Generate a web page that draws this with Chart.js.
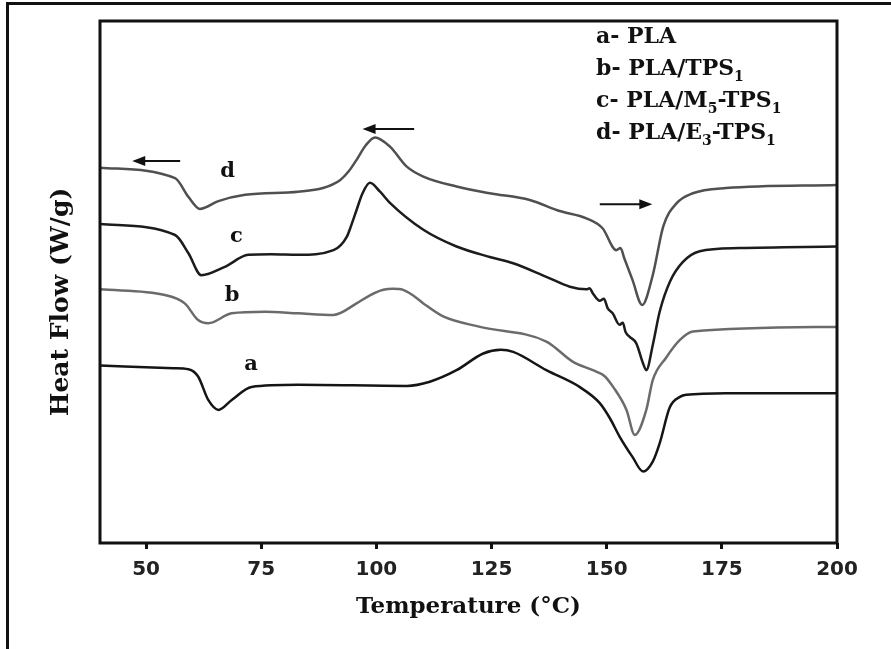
<!DOCTYPE html>
<html>
<head>
<meta charset="utf-8">
<script src="https://cdn.jsdelivr.net/npm/chart.js@4.4.1/dist/chart.umd.min.js"></script>
<style>
  html, body { margin: 0; padding: 0; background: #fff; }
  #wrap { position: relative; width: 891px; height: 649px; overflow: hidden; }
  #frame { position: absolute; left: 6px; top: 2px; width: 900px; height: 660px; border: 3px solid #111; pointer-events: none; }
</style>
</head>
<body>
<div id="wrap">
  <canvas id="dsc"></canvas>
  <div id="frame"></div>
</div>
<script>
// temperature (°C) and heat flow (arbitrary units, curves offset)
const tempsA = [40, 56, 59.2, 61.3, 63.5, 65.7, 68.6, 72.9, 83, 106.6, 111.6, 117.4, 123.2, 127, 129.7, 136.9, 144.1, 148.5, 150.7, 152.8, 155.6, 157.9, 160, 161.5, 163.7, 165.9, 167.3, 175.9, 200];
const flowA  = [3.40, 3.35, 3.33, 3.19, 2.74, 2.55, 2.74, 2.99, 3.03, 3.01, 3.09, 3.31, 3.63, 3.70, 3.66, 3.31, 2.99, 2.68, 2.39, 2.04, 1.65, 1.37, 1.56, 1.91, 2.60, 2.80, 2.84, 2.87, 2.87];

const tempsB = [40, 54.1, 58.4, 61.3, 63.5, 68.6, 75.8, 83, 90.7, 95.7, 98.5, 101.5, 103.6, 105.8, 108, 110.2, 114.5, 122.5, 136.9, 142.7, 147, 149.5, 151.4, 154.3, 156.1, 158.6, 160, 162.9, 165.9, 168.7, 200];
const flowB  = [4.86, 4.75, 4.59, 4.27, 4.21, 4.40, 4.43, 4.40, 4.37, 4.59, 4.74, 4.85, 4.87, 4.85, 4.74, 4.59, 4.34, 4.14, 3.86, 3.47, 3.31, 3.20, 2.99, 2.55, 2.07, 2.55, 3.12, 3.55, 3.89, 4.05, 4.14];

const tempsC = [40, 56.3, 59.2, 62.0, 67.1, 72.2, 77.2, 83, 90.7, 93.6, 94.6, 95.7, 97, 98.6, 100.8, 103, 110.2, 117.4, 124.6, 129.7, 136.9, 142, 145.6, 146.3, 147, 148.5, 149.4, 150.2, 151.3, 152.8, 153.5, 154.1, 155, 156.4, 157.9, 158.6, 160, 161.5, 163.7, 166.5, 170.2, 178.8, 200];
const flowC  = [6.11, 5.90, 5.55, 5.13, 5.29, 5.52, 5.53, 5.52, 5.61, 5.87, 6.10, 6.38, 6.70, 6.90, 6.73, 6.51, 6.00, 5.68, 5.48, 5.36, 5.10, 4.91, 4.86, 4.88, 4.78, 4.64, 4.68, 4.50, 4.40, 4.18, 4.22, 4.04, 3.95, 3.83, 3.44, 3.31, 3.79, 4.43, 5.00, 5.38, 5.59, 5.65, 5.68];

const tempsD = [40, 56.3, 59.2, 61.7, 65.7, 71.5, 83, 88.4, 92.1, 94, 95.7, 97.7, 99.7, 103, 106.6, 110.2, 117.4, 124.6, 133.3, 139.8, 145.6, 149.1, 152.1, 153, 153.8, 155.6, 157.7, 160, 162.3, 165.2, 168.7, 175.9, 200];
const flowD  = [7.19, 6.99, 6.63, 6.40, 6.55, 6.67, 6.73, 6.80, 6.95, 7.12, 7.34, 7.62, 7.77, 7.59, 7.21, 7.02, 6.83, 6.70, 6.57, 6.36, 6.22, 6.03, 5.61, 5.65, 5.46, 5.04, 4.56, 5.13, 6.07, 6.51, 6.70, 6.80, 6.86];

const xTicks = [50, 75, 100, 125, 150, 175, 200];
const yTitle = 'Heat Flow (W/g)';

// curve letters placed next to each trace (temperature, heat flow)
const curveLetters = ['a', 'b', 'c', 'd'];
const letterT = [72.8, 68.7, 69.6, 67.7];
const letterY = [3.41, 4.75, 5.88, 7.11];

// heating direction arrows: [from T, to T, heat flow]
const arrows = [[57.4, 47.0, 7.32], [108.2, 97.0, 7.93], [148.5, 159.9, 6.49]];

// legend text, odd entries are subscripts
const legendLines = [['a- PLA'], ['b- PLA/TPS', '1'], ['c- PLA/M', '5', '-TPS', '1'], ['d- PLA/E', '3', '-TPS', '1']];

const toPts = (t, f) => t.map((v, i) => ({ x: v, y: f[i] }));

const extras = {
    id: 'extras',
    afterDatasetsDraw(chart) {
        const { ctx, chartArea: a, scales: { x, y } } = chart;
        ctx.save();
        ctx.lineWidth = 3;
        ctx.strokeStyle = '#111';
        ctx.strokeRect(a.left, a.top, a.right - a.left, a.bottom - a.top);

        ctx.fillStyle = '#111';
        ctx.textAlign = 'center';
        ctx.textBaseline = 'middle';
        ctx.font = 'bold 21px "DejaVu Serif"';
        curveLetters.forEach((l, i) => {
            ctx.fillText(l, x.getPixelForValue(letterT[i]), y.getPixelForValue(letterY[i]));
        });

        // y title, a bit below the middle like the original
        ctx.save();
        ctx.translate(a.left - 39, (a.top + a.bottom) / 2 + 20);
        ctx.rotate(-Math.PI / 2);
        ctx.font = 'bold 25px "DejaVu Serif"';
        ctx.fillText(yTitle, 0, 0);
        ctx.restore();

        ctx.lineWidth = 2;
        arrows.forEach(([t0, t1, v]) => {
            const x0 = x.getPixelForValue(t0), x1 = x.getPixelForValue(t1), py = y.getPixelForValue(v);
            const dir = Math.sign(x1 - x0);
            ctx.beginPath();
            ctx.moveTo(x0, py);
            ctx.lineTo(x1 - dir * 8, py);
            ctx.stroke();
            ctx.beginPath();
            ctx.moveTo(x1, py);
            ctx.lineTo(x1 - dir * 13, py - 5);
            ctx.lineTo(x1 - dir * 13, py + 5);
            ctx.closePath();
            ctx.fill();
        });

        ctx.textAlign = 'left';
        legendLines.forEach((parts, i) => {
            let px = a.right - 241;
            const py = a.top + 16 + i * 32;
            parts.forEach((s, j) => {
                const sub = j % 2 === 1;
                ctx.font = sub ? 'bold 14px "DejaVu Serif"' : 'bold 22px "DejaVu Serif"';
                ctx.fillText(s, px, sub ? py + 8 : py);
                px += ctx.measureText(s).width;
            });
        });
        ctx.restore();
    }
};

const mk = (label, t, f, color) => ({
    label,
    data: toPts(t, f),
    borderColor: color,
    borderWidth: 2.5,
    pointRadius: 0,
    fill: false,
    cubicInterpolationMode: 'monotone'
});

new Chart(document.getElementById('dsc'), {
    type: 'line',
    data: {
        datasets: [
            mk('a', tempsA, flowA, '#151515'),
            mk('b', tempsB, flowB, '#6b6b6b'),
            mk('c', tempsC, flowC, '#1c1c1c'),
            mk('d', tempsD, flowD, '#505050')
        ]
    },
    options: {
        responsive: true,
        maintainAspectRatio: false,
        animation: false,
        layout: { padding: { left: 40, right: 54, top: 21, bottom: 20 } },
        plugins: { legend: { display: false }, tooltip: { enabled: false } },
        scales: {
            x: {
                type: 'linear',
                min: 40,
                max: 200,
                afterBuildTicks: axis => { axis.ticks = xTicks.map(v => ({ value: v })); },
                afterFit: axis => { axis.height = 86; },
                border: { display: false },
                grid: { drawOnChartArea: false, drawTicks: true, tickLength: 6, lineWidth: 3, tickColor: '#111' },
                ticks: { padding: 9, color: '#222', font: { family: 'DejaVu Sans', weight: 'bold', size: 20 } },
                title: { display: true, text: 'Temperature (°C)', color: '#111', padding: { top: 0, bottom: 8 },
                         font: { family: 'DejaVu Serif', weight: 'bold', size: 23 } }
            },
            y: {
                min: 0,
                max: 10,
                afterFit: axis => { axis.width = 60; },
                border: { display: false },
                grid: { display: false },
                ticks: { display: false },
                title: { display: false }
            }
        }
    },
    plugins: [extras]
});
</script>
</body>
</html>
